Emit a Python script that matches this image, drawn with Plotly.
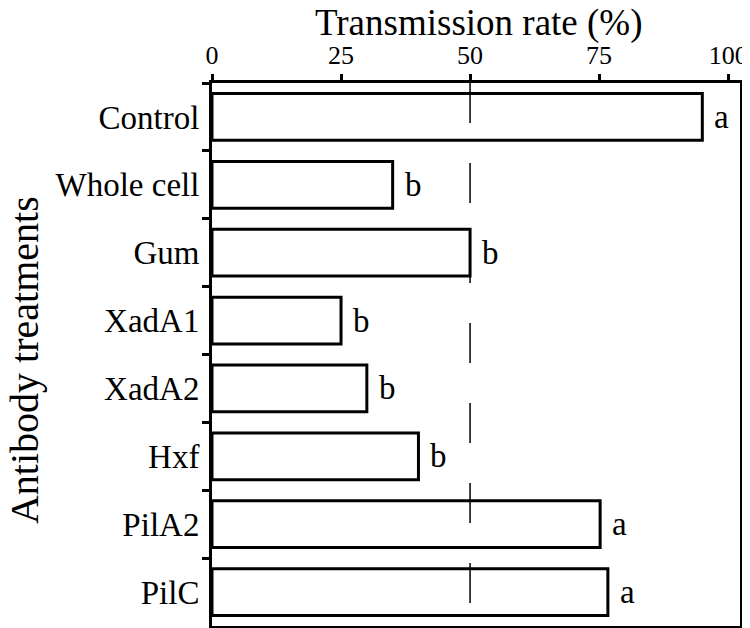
import plotly.graph_objects as go

# data
treatments = ["Control", "Whole cell", "Gum", "XadA1", "XadA2", "Hxf", "PilA2", "PilC"]
rates = [95, 35, 50, 25, 30, 40, 75.2, 76.7]
letters = ["a", "b", "b", "b", "b", "b", "a", "a"]
x_ticks = [0, 25, 50, 75, 100]

serif = "Liberation Serif, Times New Roman, serif"

# page body has an 8px margin, so the figure is drawn 8px smaller and shifted
off = 8

fig = go.Figure()
fig.add_trace(go.Bar(
    x=rates, y=treatments, orientation="h",
    marker=dict(color="white", line=dict(color="black", width=3)),
    width=0.69, hoverinfo="skip", showlegend=False,
))

# significance letters next to each bar
for t, r, l in zip(treatments, rates, letters):
    fig.add_annotation(x=r, y=t, text=l, showarrow=False,
                       xanchor="left", yanchor="middle", xshift=10,
                       font=dict(family=serif, size=33, color="black"))

# dashed reference line at 50 %
fig.add_shape(type="line", xref="x", yref="paper", x0=50, x1=50, y0=1, y1=0,
              line=dict(color="black", width=1.5, dash="40px,40px"), layer="above")

fig.add_annotation(text="Transmission rate (%)", xref="paper", yref="paper",
                   x=0.505, y=1.111, showarrow=False, xanchor="center", yanchor="middle",
                   font=dict(family=serif, size=37, color="black"))
fig.add_annotation(text="Antibody treatments", xref="paper", yref="paper",
                   x=-0.354, y=0.49, showarrow=False, textangle=-90,
                   xanchor="center", yanchor="middle",
                   font=dict(family=serif, size=40, color="black"))

fig.update_xaxes(side="top", range=[0, 102.3], tickvals=x_ticks,
                 ticks="outside", ticklen=6, tickwidth=3, tickcolor="black",
                 showline=True, linewidth=3, linecolor="black", mirror=True,
                 showgrid=False, zeroline=False, automargin=False,
                 tickfont=dict(family=serif, size=26, color="black"))
fig.update_yaxes(autorange="reversed", type="category", tickson="boundaries",
                 ticks="outside", ticklen=7, tickwidth=3, tickcolor="black",
                 showline=True, linewidth=3, linecolor="black", mirror=True,
                 showgrid=False, ticklabelstandoff=3, automargin=False,
                 tickfont=dict(family=serif, size=33, color="black"))

fig.update_layout(
    width=750 - off, height=628 - off,
    margin=dict(l=212 - off, r=10, t=83 - off, b=2),
    plot_bgcolor="white", paper_bgcolor="white",
    bargap=0.31,
)

fig.write_html("out.html")
